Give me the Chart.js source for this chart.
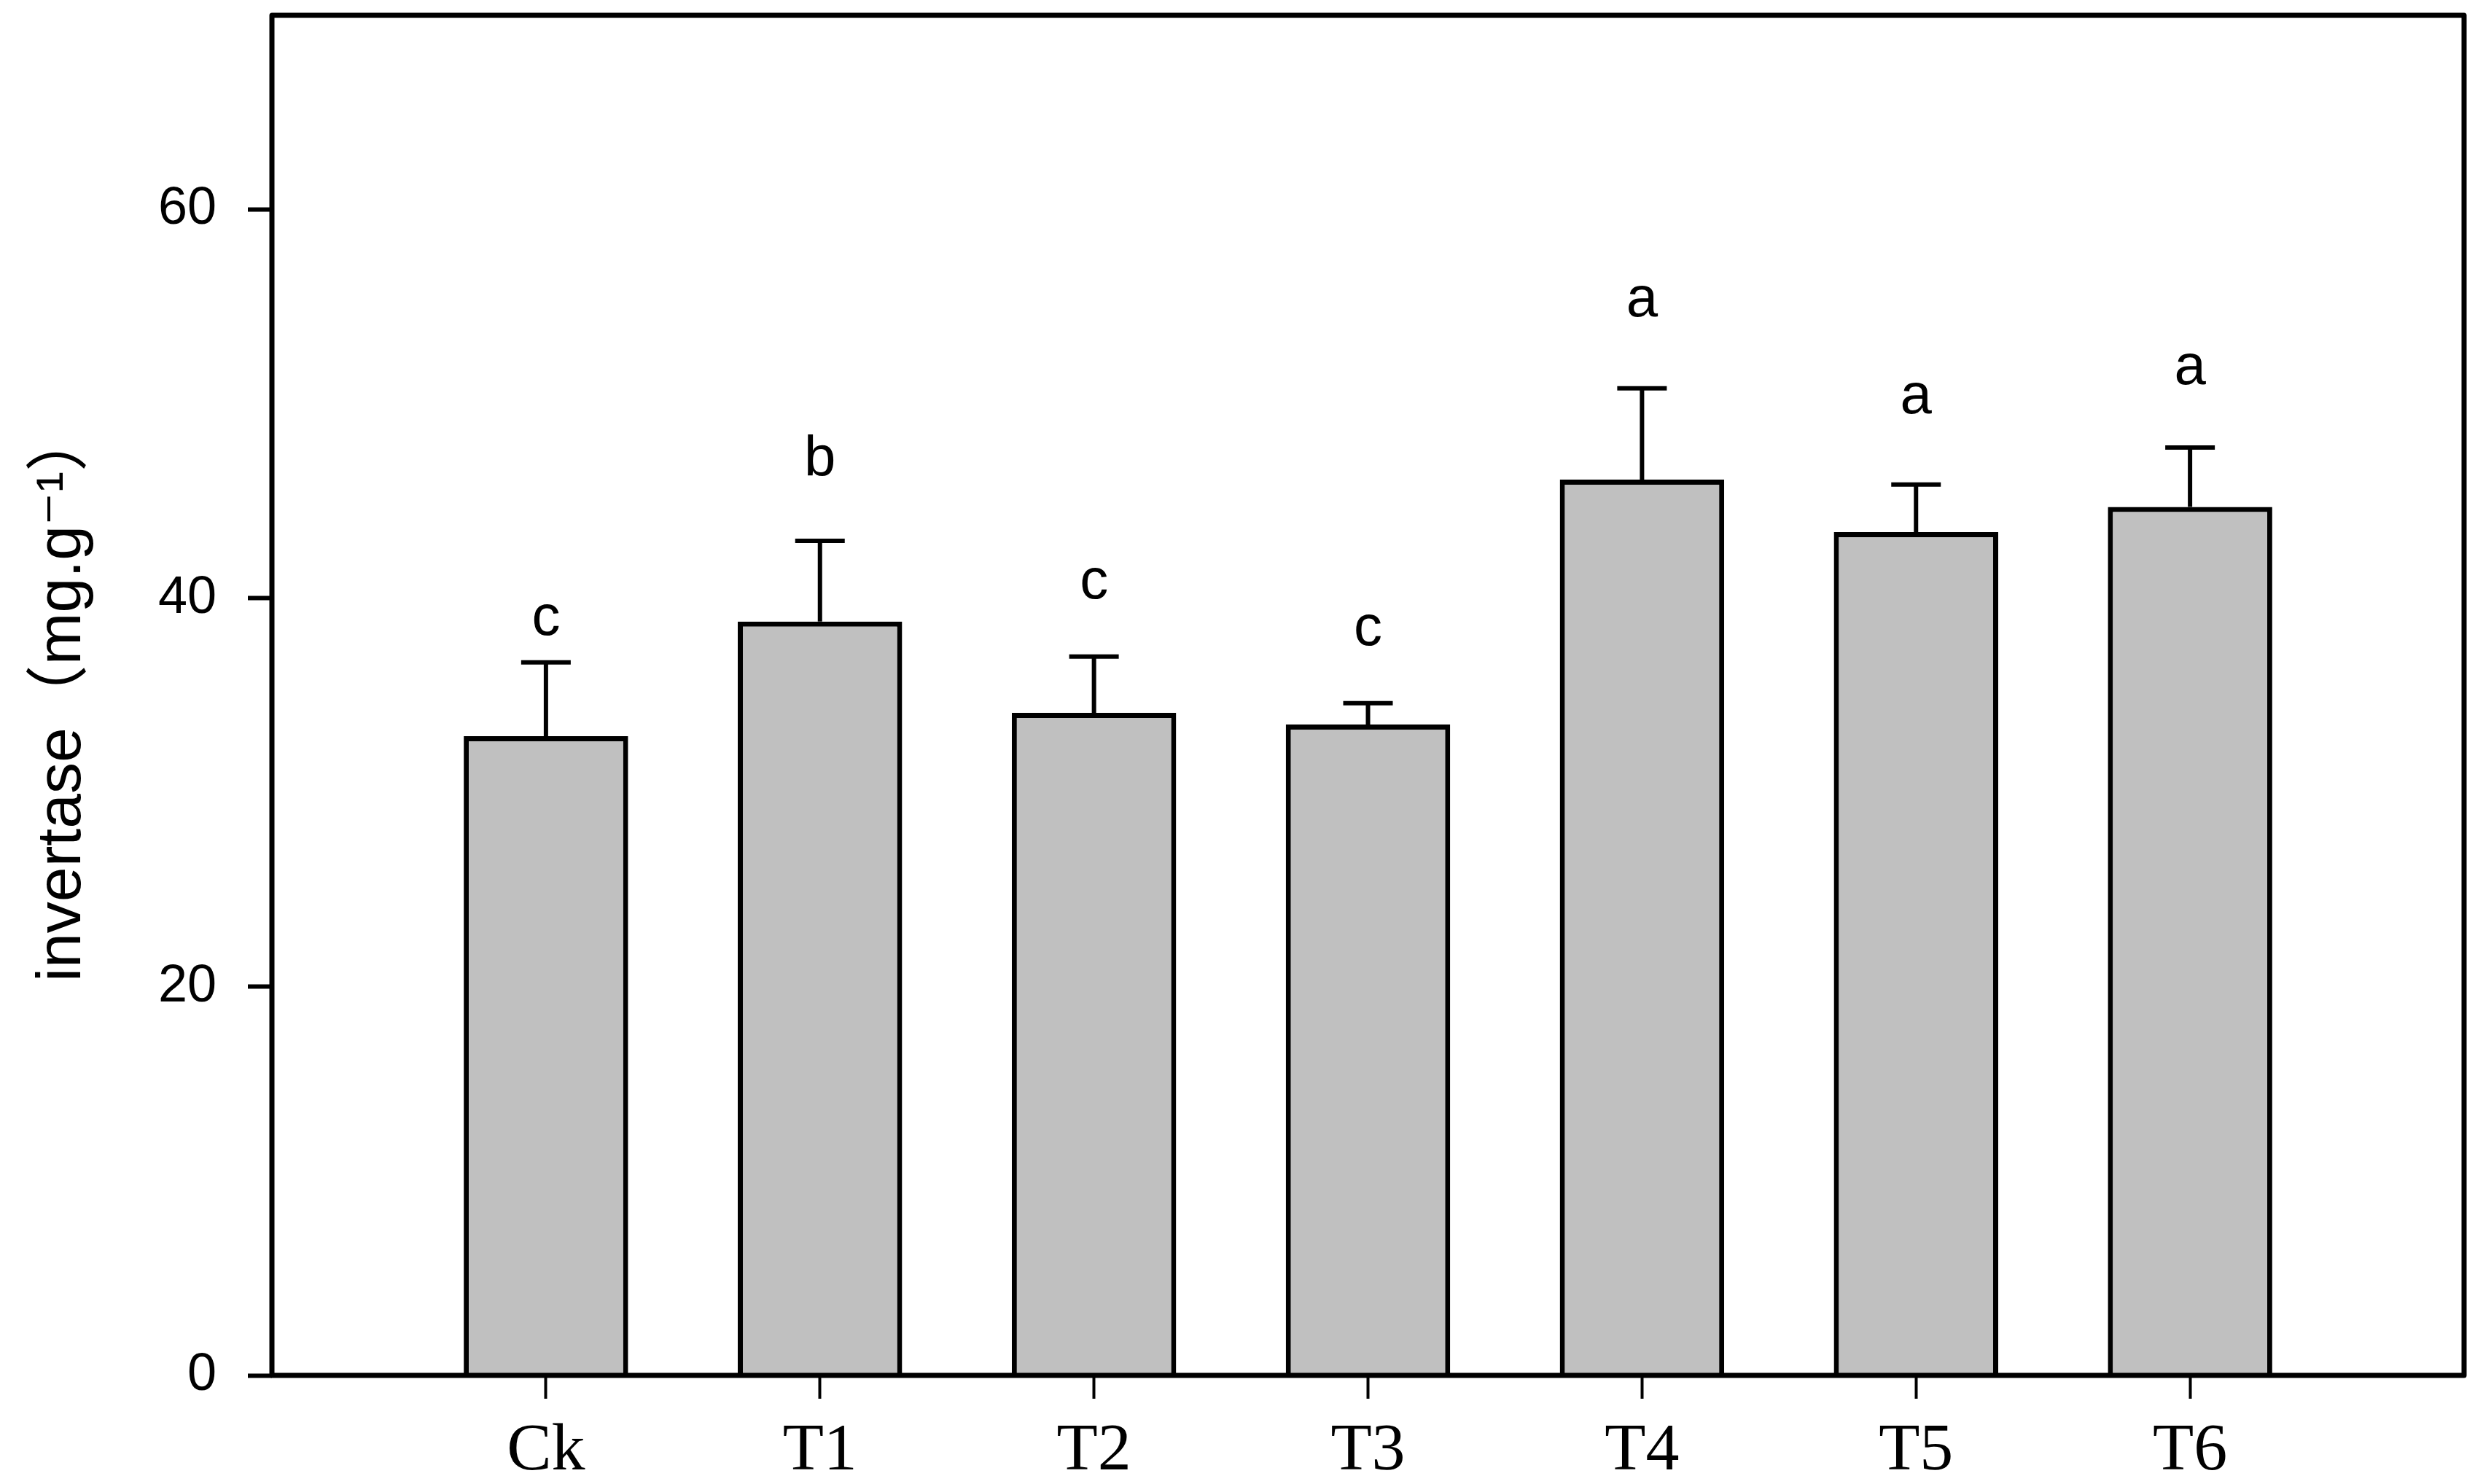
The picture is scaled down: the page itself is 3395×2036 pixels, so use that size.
<!DOCTYPE html>
<html>
<head>
<meta charset="utf-8">
<script src="https://cdn.jsdelivr.net/npm/chart.js@4.4.0/dist/chart.umd.min.js"></script>
<style>
  html, body { margin: 0; padding: 0; background: #ffffff; }
  #wrap { width: 3395px; height: 2036px; }
</style>
</head>
<body>
<div id="wrap"><canvas id="c" width="3395" height="2036"></canvas></div>
<script>
// ---- data ----
const categories = ['Ck', 'T1', 'T2', 'T3', 'T4', 'T5', 'T6'];
const meanValues = [32.9, 38.8, 34.1, 33.5, 46.1, 43.4, 44.7];
const errorValues = [3.8, 4.15, 2.9, 1.1, 4.7, 2.45, 3.05];
const sigLetters = ['c', 'b', 'c', 'c', 'a', 'a', 'a'];
const sigLetterValues = [38.1, 46.3, 40.0, 37.6, 54.5, 49.5, 51.0];
const yTickValues = [0, 20, 40, 60];
const yMin = 0;
const yMax = 70;
const yTitle = 'invertase\uFF08mg.g\u207B\u00B9\uFF09';

// padded category axis: one empty slot at each end
const xLabels = [''].concat(categories, ['']);
const barData = [null].concat(meanValues, [null]);

const sansFamily = '"Liberation Sans", Arial, "DejaVu Sans", "Noto Sans CJK SC", sans-serif';
const serifFamily = '"Liberation Serif", "Times New Roman", "DejaVu Serif", serif';

const errorBarPlugin = {
  id: 'errorBars',
  afterDatasetsDraw(chart) {
    const ctx = chart.ctx;
    const xs = chart.scales.x, ys = chart.scales.y;
    ctx.save();
    ctx.strokeStyle = '#000000';
    ctx.lineWidth = 6;
    ctx.lineCap = 'butt';
    for (let i = 0; i < categories.length; i++) {
      const x = xs.getPixelForValue(i + 1);
      const yb = ys.getPixelForValue(meanValues[i]);
      const yt = ys.getPixelForValue(meanValues[i] + errorValues[i]);
      ctx.beginPath();
      ctx.moveTo(x, yb);
      ctx.lineTo(x, yt);
      ctx.stroke();
      ctx.beginPath();
      ctx.moveTo(x - 34, yt);
      ctx.lineTo(x + 34, yt);
      ctx.stroke();
    }
    // significance letters
    ctx.fillStyle = '#000000';
    ctx.font = '78px ' + sansFamily;
    ctx.textAlign = 'center';
    ctx.textBaseline = 'alphabetic';
    for (let i = 0; i < categories.length; i++) {
      const x = xs.getPixelForValue(i + 1);
      const y = ys.getPixelForValue(sigLetterValues[i]);
      ctx.fillText(sigLetters[i], x, y);
    }
    ctx.restore();
  }
};

const framePlugin = {
  id: 'frame',
  afterDraw(chart) {
    const a = chart.chartArea;
    const ctx = chart.ctx;
    ctx.save();
    ctx.strokeStyle = '#000000';
    ctx.lineWidth = 7;
    ctx.lineJoin = 'round';
    ctx.strokeRect(a.left, a.top, a.right - a.left, a.bottom - a.top);
    ctx.restore();
  }
};

new Chart(document.getElementById('c'), {
  type: 'bar',
  data: {
    labels: xLabels,
    datasets: [{
      data: barData,
      backgroundColor: '#c0c0c0',
      borderColor: '#000000',
      borderWidth: 7,
      borderSkipped: 'bottom',
      barPercentage: 0.6,
      categoryPercentage: 1.0
    }]
  },
  options: {
    responsive: false,
    devicePixelRatio: 1,
    animation: false,
    layout: { padding: { top: 21, right: 15, left: 0, bottom: 0 } },
    plugins: {
      legend: { display: false },
      tooltip: { enabled: false }
    },
    scales: {
      x: {
        type: 'category',
        offset: false,
        grid: {
          offset: false,
          display: true,
          drawOnChartArea: false,
          drawTicks: true,
          tickLength: 32,
          tickWidth: 4,
          tickColor: (c) => (xLabels[c.index] === '' ? 'rgba(0,0,0,0)' : '#000000')
        },
        border: { display: false },
        ticks: {
          autoSkip: false,
          maxRotation: 0,
          minRotation: 0,
          padding: 18,
          color: '#000000',
          font: { family: serifFamily, size: 92 }
        },
        afterFit: (s) => {
          s.height = 2036 - 1887;
          s.paddingLeft = 0; s.paddingRight = 0;
          s.paddingTop = 0; s.paddingBottom = 0;
        }
      },
      y: {
        min: yMin,
        max: yMax,
        grid: {
          display: true,
          drawOnChartArea: false,
          drawTicks: true,
          tickLength: 33,
          tickWidth: 6,
          tickColor: '#000000'
        },
        border: { display: false },
        afterBuildTicks: (s) => { s.ticks = yTickValues.map(v => ({ value: v })); },
        ticks: {
          padding: 43,
          color: '#000000',
          font: { family: sansFamily, size: 72 }
        },
        title: {
          display: true,
          text: yTitle,
          color: '#000000',
          padding: { top: 35, bottom: 0 },
          font: { family: sansFamily, size: 86 }
        },
        afterFit: (s) => {
          s.width = 373;
          s.paddingTop = 0; s.paddingBottom = 0;
          s.paddingLeft = 0; s.paddingRight = 0;
        }
      }
    }
  },
  plugins: [errorBarPlugin, framePlugin]
});
</script>
</body>
</html>
